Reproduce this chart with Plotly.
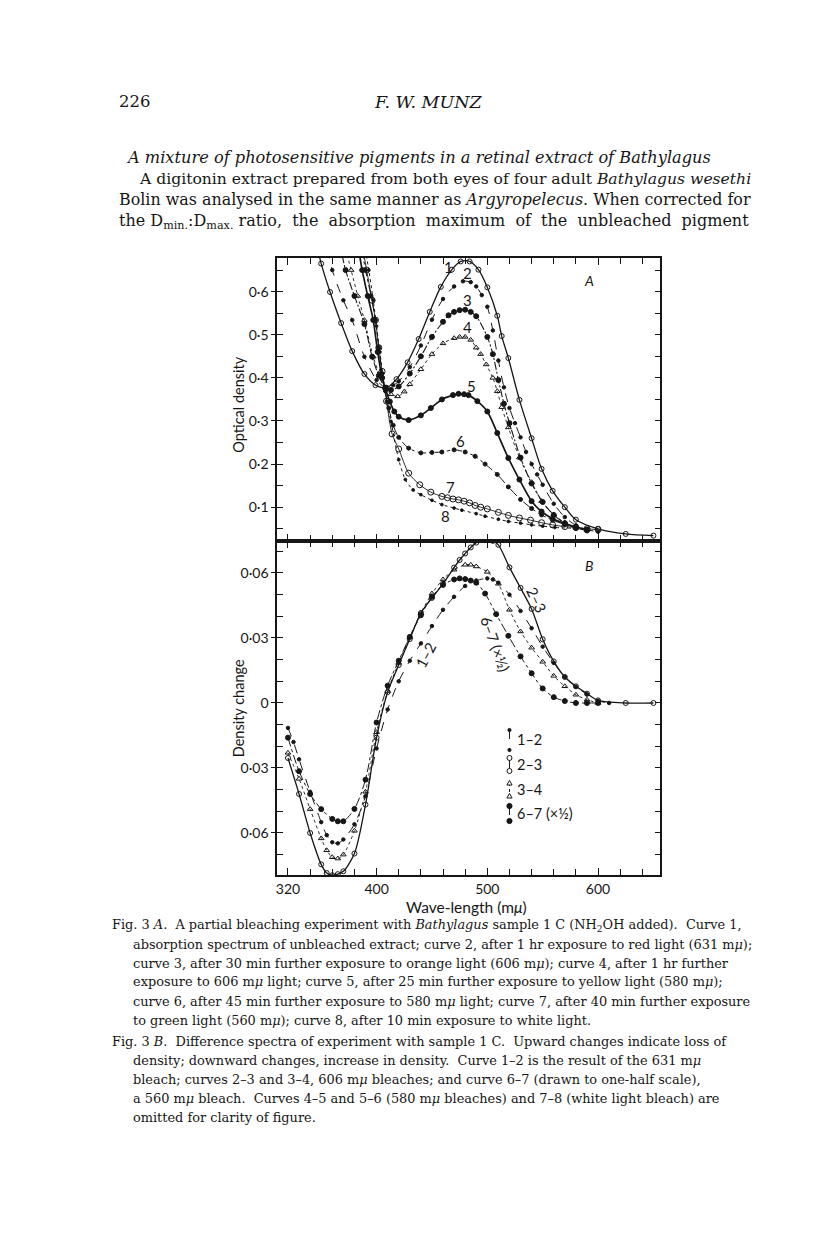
import plotly.graph_objects as go

W, H = 816, 1234

# ---------------- Panel A: optical density of curves 1-8 ----------------
wl_c1 = [340, 345, 350, 358, 368, 378, 389, 399, 409, 418, 428, 438, 448, 458, 468, 476, 484, 492, 500, 509, 513, 519, 529, 540, 549, 559, 570, 580, 600, 625, 650]
od_c1 = [0.78, 0.72, 0.665, 0.599, 0.527, 0.462, 0.409, 0.383, 0.377, 0.397, 0.436, 0.490, 0.553, 0.611, 0.651, 0.670, 0.670, 0.651, 0.610, 0.544, 0.497, 0.446, 0.349, 0.260, 0.189, 0.138, 0.100, 0.071, 0.050, 0.038, 0.034]

wl_c2 = [350, 355, 360, 370, 378, 389, 400, 408, 415, 420, 430, 440, 450, 460, 470, 478, 485, 490, 495, 500, 505, 510, 515, 520, 525, 530, 535, 540, 545, 550, 560, 570, 580, 590, 600]
od_c2 = [0.78, 0.71, 0.65, 0.58, 0.534, 0.449, 0.395, 0.378, 0.383, 0.392, 0.425, 0.475, 0.535, 0.583, 0.612, 0.624, 0.622, 0.612, 0.592, 0.565, 0.51, 0.44, 0.378, 0.33, 0.295, 0.262, 0.228, 0.2, 0.176, 0.152, 0.108, 0.077, 0.058, 0.048, 0.043]

wl_c3 = [362, 367, 372, 380, 389, 396, 402, 408, 413, 420, 430, 440, 450, 460, 465, 470, 475, 480, 485, 490, 500, 505, 510, 515, 520, 530, 540, 550, 560, 570, 580, 590]
od_c3 = [0.78, 0.71, 0.65, 0.59, 0.525, 0.449, 0.405, 0.377, 0.372, 0.38, 0.41, 0.45, 0.495, 0.53, 0.545, 0.553, 0.557, 0.558, 0.553, 0.543, 0.495, 0.455, 0.395, 0.34, 0.295, 0.215, 0.155, 0.112, 0.082, 0.063, 0.052, 0.046]

wl_c4 = [365, 371, 377, 383, 389, 397, 403, 408, 413, 419, 425, 430, 440, 450, 460, 470, 475, 480, 485, 490, 494, 499, 505, 509, 513, 519, 529, 540, 549, 560, 570, 580, 590]
od_c4 = [0.78, 0.71, 0.65, 0.59, 0.534, 0.449, 0.405, 0.377, 0.362, 0.357, 0.368, 0.385, 0.42, 0.455, 0.48, 0.492, 0.495, 0.495, 0.488, 0.47, 0.455, 0.431, 0.40, 0.369, 0.332, 0.285, 0.215, 0.158, 0.114, 0.083, 0.064, 0.053, 0.047]

wl_c5 = [378, 383, 387, 392, 397, 401, 405, 408, 412, 416, 420, 429, 440, 449, 459, 469, 474, 479, 483, 491, 500, 509, 519, 529, 540, 549, 559, 570, 580, 590]
od_c5 = [0.78, 0.71, 0.65, 0.59, 0.534, 0.46, 0.40, 0.375, 0.345, 0.322, 0.31, 0.302, 0.313, 0.33, 0.35, 0.36, 0.363, 0.362, 0.36, 0.346, 0.322, 0.272, 0.214, 0.164, 0.114, 0.09, 0.073, 0.062, 0.054, 0.048]

wl_c6 = [382, 386, 390, 395, 399, 402, 405, 408, 411, 415, 420, 429, 440, 450, 459, 470, 480, 489, 498, 509, 519, 530, 540, 549, 559, 570, 580, 590]
od_c6 = [0.78, 0.71, 0.65, 0.59, 0.534, 0.47, 0.41, 0.37, 0.33, 0.29, 0.262, 0.237, 0.226, 0.227, 0.228, 0.233, 0.228, 0.218, 0.2, 0.176, 0.147, 0.118, 0.097, 0.082, 0.07, 0.06, 0.053, 0.048]

wl_c7 = [383, 387, 391, 396, 399, 402, 405, 409, 414, 420, 429, 439, 449, 459, 464, 469, 474, 479, 484, 489, 494, 500, 510, 519, 529, 539, 549, 559, 570, 580, 590, 600]
od_c7 = [0.78, 0.71, 0.65, 0.58, 0.534, 0.47, 0.415, 0.346, 0.27, 0.235, 0.179, 0.152, 0.135, 0.125, 0.122, 0.119, 0.117, 0.114, 0.11, 0.104, 0.1, 0.096, 0.088, 0.081, 0.075, 0.070, 0.064, 0.059, 0.055, 0.053, 0.05, 0.048]

wl_c8 = [385, 389, 393, 397, 400, 403, 406, 409, 413, 420, 426, 433, 440, 450, 459, 470, 477, 490, 498, 510, 519, 530, 540, 550, 561, 580]
od_c8 = [0.78, 0.71, 0.65, 0.58, 0.52, 0.46, 0.40, 0.345, 0.299, 0.21, 0.164, 0.14, 0.129, 0.116, 0.106, 0.098, 0.093, 0.085, 0.079, 0.072, 0.067, 0.063, 0.059, 0.056, 0.053, 0.051]

curve_names_A = ["1", "2", "3", "4", "5", "6", "7", "8"]
label_wl_A = [465, 482, 482, 482, 486, 476, 467, 462]
label_od_A = [0.658, 0.643, 0.581, 0.517, 0.380, 0.253, 0.148, 0.079]

# ---------------- Panel B: density change ----------------
wl_12 = [320, 325, 330, 340, 350, 355, 360, 365, 370, 380, 390, 400, 410, 420, 430, 440, 450, 460, 470, 480, 490, 500, 505, 510, 520, 530, 540, 550, 560, 570, 580, 590, 600, 610]
dd_12 = [-0.0115, -0.018, -0.026, -0.041, -0.055, -0.061, -0.0643, -0.0648, -0.063, -0.056, -0.043, -0.021, -0.003, 0.01, 0.0195, 0.0275, 0.0355, 0.043, 0.049, 0.054, 0.0565, 0.0575, 0.057, 0.0555, 0.050, 0.0425, 0.0345, 0.026, 0.0185, 0.012, 0.0075, 0.004, 0.001, 0.0]

wl_23 = [320, 330, 340, 350, 355, 360, 365, 370, 380, 390, 400, 410, 420, 430, 440, 450, 460, 470, 475, 480, 485, 490, 495, 500, 505, 510, 520, 530, 540, 550, 560, 570, 580, 590, 600, 625, 650]
dd_23 = [-0.0254, -0.042, -0.06, -0.0745, -0.0785, -0.0795, -0.079, -0.0777, -0.0695, -0.0469, -0.016, 0.005, 0.0175, 0.0295, 0.0415, 0.0485, 0.055, 0.0625, 0.066, 0.069, 0.0718, 0.074, 0.0752, 0.0755, 0.0748, 0.073, 0.0626, 0.0531, 0.0434, 0.0294, 0.0192, 0.012, 0.0077, 0.0043, 0.0012, 0.0, 0.0]

wl_34 = [320, 330, 340, 350, 355, 360, 365, 370, 380, 390, 400, 410, 420, 430, 440, 450, 460, 470, 480, 485, 490, 500, 510, 520, 530, 540, 550, 560, 570, 580, 590, 600]
dd_34 = [-0.023, -0.035, -0.049, -0.0625, -0.068, -0.0712, -0.0718, -0.07, -0.059, -0.041, -0.0135, 0.0055, 0.0185, 0.0305, 0.0415, 0.0505, 0.057, 0.0615, 0.0638, 0.0638, 0.063, 0.0605, 0.055, 0.043, 0.033, 0.0255, 0.019, 0.0125, 0.0077, 0.0038, 0.0015, 0.0]

wl_67 = [320, 330, 340, 350, 360, 365, 370, 380, 390, 400, 410, 420, 430, 440, 450, 460, 470, 475, 480, 485, 490, 498, 508, 519, 530, 540, 550, 560, 570, 580, 590, 600]
dd_67 = [-0.016, -0.0315, -0.042, -0.049, -0.0535, -0.0546, -0.0546, -0.0489, -0.0354, -0.009, 0.008, 0.0195, 0.0305, 0.0405, 0.049, 0.0545, 0.057, 0.0575, 0.0572, 0.0565, 0.0555, 0.0505, 0.041, 0.031, 0.0215, 0.0137, 0.0067, 0.0027, 0.0009, 0.0, 0.0, 0.0]

# axis ticks
x_major = [320, 400, 500, 600]
x_major_text = ["320", "400", "500", "600"]
x_minor = [340, 360, 380, 420, 440, 460, 480, 520, 540, 560, 580, 620, 640]
yA_major = [0.1, 0.2, 0.3, 0.4, 0.5, 0.6]
yA_major_text = ["0·1", "0·2", "0·3", "0·4", "0·5", "0·6"]
yA_minor = [0.05, 0.15, 0.25, 0.35, 0.45, 0.55, 0.65]
yB_major = [-0.06, -0.03, 0.0, 0.03, 0.06]
yB_major_text = ["0·06", "0·03", "0", "0·03", "0·06"]
yB_minor = [-0.08, -0.07, -0.05, -0.04, -0.02, -0.01, 0.01, 0.02, 0.04, 0.05, 0.07]

X_RANGE = [310.4, 656.3]
YA_RANGE = [0.0223, 0.678]
YB_RANGE = [-0.0794, 0.0749]

# ---------------- geometry (pixels of the page) ----------------
def px(x):
    return x / W

def py(y):
    return 1 - y / H

BOX_L, BOX_R = 268, 652
A_TOP, MID, B_BOT = 250, 532.7, 867

SERIF = "DejaVu Serif"
SANS = "Lato"
INK = "#161616"

fig = go.Figure()

styleA = [
    dict(symbol="circle-open", size=5, dash="solid", width=1.3),
    dict(symbol="circle", size=3.5, dash="dash", width=1.0),
    dict(symbol="circle", size=5, dash="8px,2px,2px,2px", width=1.1),
    dict(symbol="triangle-up-open", size=5, dash="dot", width=0.9),
    dict(symbol="circle", size=5, dash="solid", width=1.7),
    dict(symbol="circle", size=4, dash="dashdot", width=1.0),
    dict(symbol="circle-open", size=6, dash="solid", width=0.9),
    dict(symbol="circle", size=2.8, dash="dot", width=1.0),
]
dataA = [(wl_c1, od_c1), (wl_c2, od_c2), (wl_c3, od_c3), (wl_c4, od_c4),
         (wl_c5, od_c5), (wl_c6, od_c6), (wl_c7, od_c7), (wl_c8, od_c8)]
for (xs, ys), st, nm in zip(dataA, styleA, curve_names_A):
    fig.add_trace(go.Scatter(
        x=xs, y=ys, xaxis="x2", yaxis="y2", mode="lines+markers", name=nm,
        line=dict(color=INK, width=st["width"], dash=st["dash"], shape="spline", smoothing=0.8),
        marker=dict(symbol=st["symbol"], size=st["size"], color=INK,
                    line=dict(color=INK, width=1)),
        showlegend=False, hoverinfo="skip"))

styleB = [
    dict(symbol="circle", size=3.5, dash="dash", width=1.0),
    dict(symbol="circle-open", size=5, dash="solid", width=1.3),
    dict(symbol="triangle-up-open", size=5, dash="dot", width=0.9),
    dict(symbol="circle", size=5, dash="dashdot", width=1.0),
]
dataB = [(wl_12, dd_12), (wl_23, dd_23), (wl_34, dd_34), (wl_67, dd_67)]
for (xs, ys), st in zip(dataB, styleB):
    fig.add_trace(go.Scatter(
        x=xs, y=ys, xaxis="x", yaxis="y", mode="lines+markers",
        line=dict(color=INK, width=st["width"], dash=st["dash"], shape="spline", smoothing=0.8),
        marker=dict(symbol=st["symbol"], size=st["size"], color=INK,
                    line=dict(color=INK, width=1)),
        showlegend=False, hoverinfo="skip"))

# invisible traces so the overlay axes are drawn
fig.add_trace(go.Scatter(x=[X_RANGE[0]], y=[YA_RANGE[0]], xaxis="x2", yaxis="y3",
                         mode="markers", marker=dict(opacity=0), showlegend=False, hoverinfo="skip"))
fig.add_trace(go.Scatter(x=[X_RANGE[0]], y=[YB_RANGE[0]], xaxis="x", yaxis="y4",
                         mode="markers", marker=dict(opacity=0), showlegend=False, hoverinfo="skip"))

xdom = [px(BOX_L), px(BOX_R)]
domA = [py(MID), py(A_TOP)]
domB = [py(B_BOT), py(MID)]
tickfont = dict(family=SANS, size=14, color=INK)
common_x = dict(range=X_RANGE, domain=xdom, showgrid=False, zeroline=False,
                showline=True, linecolor=INK, linewidth=1.6, mirror="ticks",
                ticks="inside", ticklen=7, tickwidth=1.3, tickcolor=INK,
                tickvals=x_major,
                minor=dict(tickvals=x_minor, ticks="inside", ticklen=6, tickwidth=1.2,
                           tickcolor=INK, showgrid=False))
fig.update_layout(
    xaxis=dict(**common_x, anchor="y", ticktext=x_major_text, tickfont=tickfont),
    xaxis2=dict(**common_x, anchor="y2", showticklabels=False),
    yaxis=dict(range=YB_RANGE, domain=domB, anchor="x", showgrid=False, zeroline=False,
               showline=True, linecolor=INK, linewidth=1.6, mirror="ticks",
               ticks="inside", ticklen=6, tickwidth=1.2, tickcolor=INK,
               tickvals=yB_major + yB_minor, showticklabels=False),
    yaxis2=dict(range=YA_RANGE, domain=domA, anchor="x2", showgrid=False, zeroline=False,
                showline=True, linecolor=INK, linewidth=1.6, mirror="ticks",
                ticks="inside", ticklen=6, tickwidth=1.2, tickcolor=INK,
                tickvals=yA_major + yA_minor, showticklabels=False),
    yaxis3=dict(range=YA_RANGE, overlaying="y2", anchor="x2", side="left",
                showgrid=False, zeroline=False, showline=False,
                ticks="outside", ticklen=5, tickwidth=1.2, tickcolor=INK,
                tickvals=yA_major, ticktext=yA_major_text, tickfont=tickfont),
    yaxis4=dict(range=YB_RANGE, overlaying="y", anchor="x", side="left",
                showgrid=False, zeroline=False, showline=False,
                ticks="outside", ticklen=5, tickwidth=1.2, tickcolor=INK,
                tickvals=yB_major, ticktext=yB_major_text, tickfont=tickfont),
    width=W, height=H, margin=dict(l=0, r=0, t=0, b=0),
    paper_bgcolor="white", plot_bgcolor="white", showlegend=False,
)

ann = []
def text(x, y, s, size, family=SERIF, xanchor="left", angle=0, yanchor="middle", **kw):
    ann.append(dict(x=px(x), y=py(y), xref="paper", yref="paper", text=s, showarrow=False,
                    font=dict(family=family, size=size, color=INK), xanchor=xanchor,
                    yanchor=yanchor, textangle=angle, align="left", **kw))

# header and body text
text(107, 94, "226", 16.5)
text(420, 94, "<i>F. W. MUNZ</i>", 17.5, xanchor="center")
text(410, 149, "<i>A mixture of photosensitive pigments in a retinal extract of Bathylagus</i>", 16.2, xanchor="center")
text(127, 171, "A digitonin extract prepared from both eyes of four adult <i>Bathylagus wesethi</i>", 15.6)
text(107, 192, "Bolin was analysed in the same manner as <i>Argyropelecus</i>. When corrected for", 15.9)
text(107, 213, "the D<sub>min.</sub>:D<sub>max.</sub> ratio,  the  absorption  maximum  of  the  unbleached  pigment", 16.0)

# axis titles
text(229, (A_TOP + MID) / 2 + 5, "Optical density", 14.5, family=SANS, xanchor="center", angle=-90)
text(229, (MID + B_BOT) / 2, "Density change", 14.5, family=SANS, xanchor="center", angle=-90)
text(458, 899, "Wave-length (m<i>μ</i>)", 15.5, family=SANS, xanchor="center")
text(580, 273, "<i>A</i>", 14, family=SANS, xanchor="center")
text(580, 557, "<i>B</i>", 14, family=SANS, xanchor="center")

# curve labels in panel A (data coordinates)
for nm, xv, yv in zip(curve_names_A, label_wl_A, label_od_A):
    ann.append(dict(x=xv, y=yv, xref="x2", yref="y2", text=nm, showarrow=False,
                    font=dict(family=SANS, size=15, color=INK)))

# curve labels in panel B
ann.append(dict(x=545, y=0.0477, xref="x", yref="y", text="2–3", showarrow=False, textangle=65,
                font=dict(family=SANS, size=15, color=INK)))
ann.append(dict(x=444, y=0.0223, xref="x", yref="y", text="1–2", showarrow=False, textangle=-62,
                font=dict(family=SANS, size=15, color=INK)))
ann.append(dict(x=507, y=0.027, xref="x", yref="y", text="6–7 (×½)", showarrow=False, textangle=70,
                font=dict(family=SANS, size=15, color=INK)))

# legend in panel B (drawn keys)
shapes = []
leg_labels = ["1–2", "2–3", "3–4", "6–7 (×½)"]
leg_top = [722, 750, 775, 798]
leg_bot = [742, 763, 788, 813]
leg_dash = ["dash", "solid", "dot", "dash"]
lx = 500.7
for lab, t, b, d in zip(leg_labels, leg_top, leg_bot, leg_dash):
    shapes.append(dict(type="line", xref="paper", yref="paper", x0=px(lx), x1=px(lx),
                       y0=py(t), y1=py(b), line=dict(color=INK, width=1, dash=d)))
    text(lx + 6, (t + b) / 2, lab, 14.5, family=SANS)
for (t, b), kind in zip(zip(leg_top, leg_bot), ["dot", "open", "tri", "fill"]):
    for yy in (t, b):
        if kind == "tri":
            path = "M {} {} L {} {} L {} {} Z".format(px(lx - 2.6), py(yy + 2), px(lx + 2.6), py(yy + 2), px(lx), py(yy - 2.6))
            shapes.append(dict(type="path", xref="paper", yref="paper", path=path,
                               line=dict(color=INK, width=1), fillcolor="white"))
        else:
            rr = {"dot": 1.6, "open": 2.5, "fill": 2.6}[kind]
            shapes.append(dict(type="circle", xref="paper", yref="paper",
                               x0=px(lx - rr), x1=px(lx + rr), y0=py(yy + rr), y1=py(yy - rr),
                               line=dict(color=INK, width=1),
                               fillcolor="white" if kind == "open" else INK))

# captions
cap = [
    (100, "Fig. 3 <i>A</i>.  A partial bleaching experiment with <i>Bathylagus</i> sample 1 C (NH<sub>2</sub>OH added).  Curve 1,"),
    (121, "absorption spectrum of unbleached extract; curve 2, after 1 hr exposure to red light (631 m<i>μ</i>);"),
    (121, "curve 3, after 30 min further exposure to orange light (606 m<i>μ</i>); curve 4, after 1 hr further"),
    (121, "exposure to 606 m<i>μ</i> light; curve 5, after 25 min further exposure to yellow light (580 m<i>μ</i>);"),
    (121, "curve 6, after 45 min further exposure to 580 m<i>μ</i> light; curve 7, after 40 min further exposure"),
    (121, "to green light (560 m<i>μ</i>); curve 8, after 10 min exposure to white light."),
    (100, "Fig. 3 <i>B</i>.  Difference spectra of experiment with sample 1 C.  Upward changes indicate loss of"),
    (121, "density; downward changes, increase in density.  Curve 1–2 is the result of the 631 m<i>μ</i>"),
    (121, "bleach; curves 2–3 and 3–4, 606 m<i>μ</i> bleaches; and curve 6–7 (drawn to one-half scale),"),
    (121, "a 560 m<i>μ</i> bleach.  Curves 4–5 and 5–6 (580 m<i>μ</i> bleaches) and 7–8 (white light bleach) are"),
    (121, "omitted for clarity of figure."),
]
cap_y = [917, 936, 955, 974, 993, 1012, 1033, 1052, 1071, 1090, 1109]
for (x0, s), yy in zip(cap, cap_y):
    text(x0, yy, s, 12.9)

fig.update_layout(annotations=ann, shapes=shapes)
fig.write_html("out.html")
